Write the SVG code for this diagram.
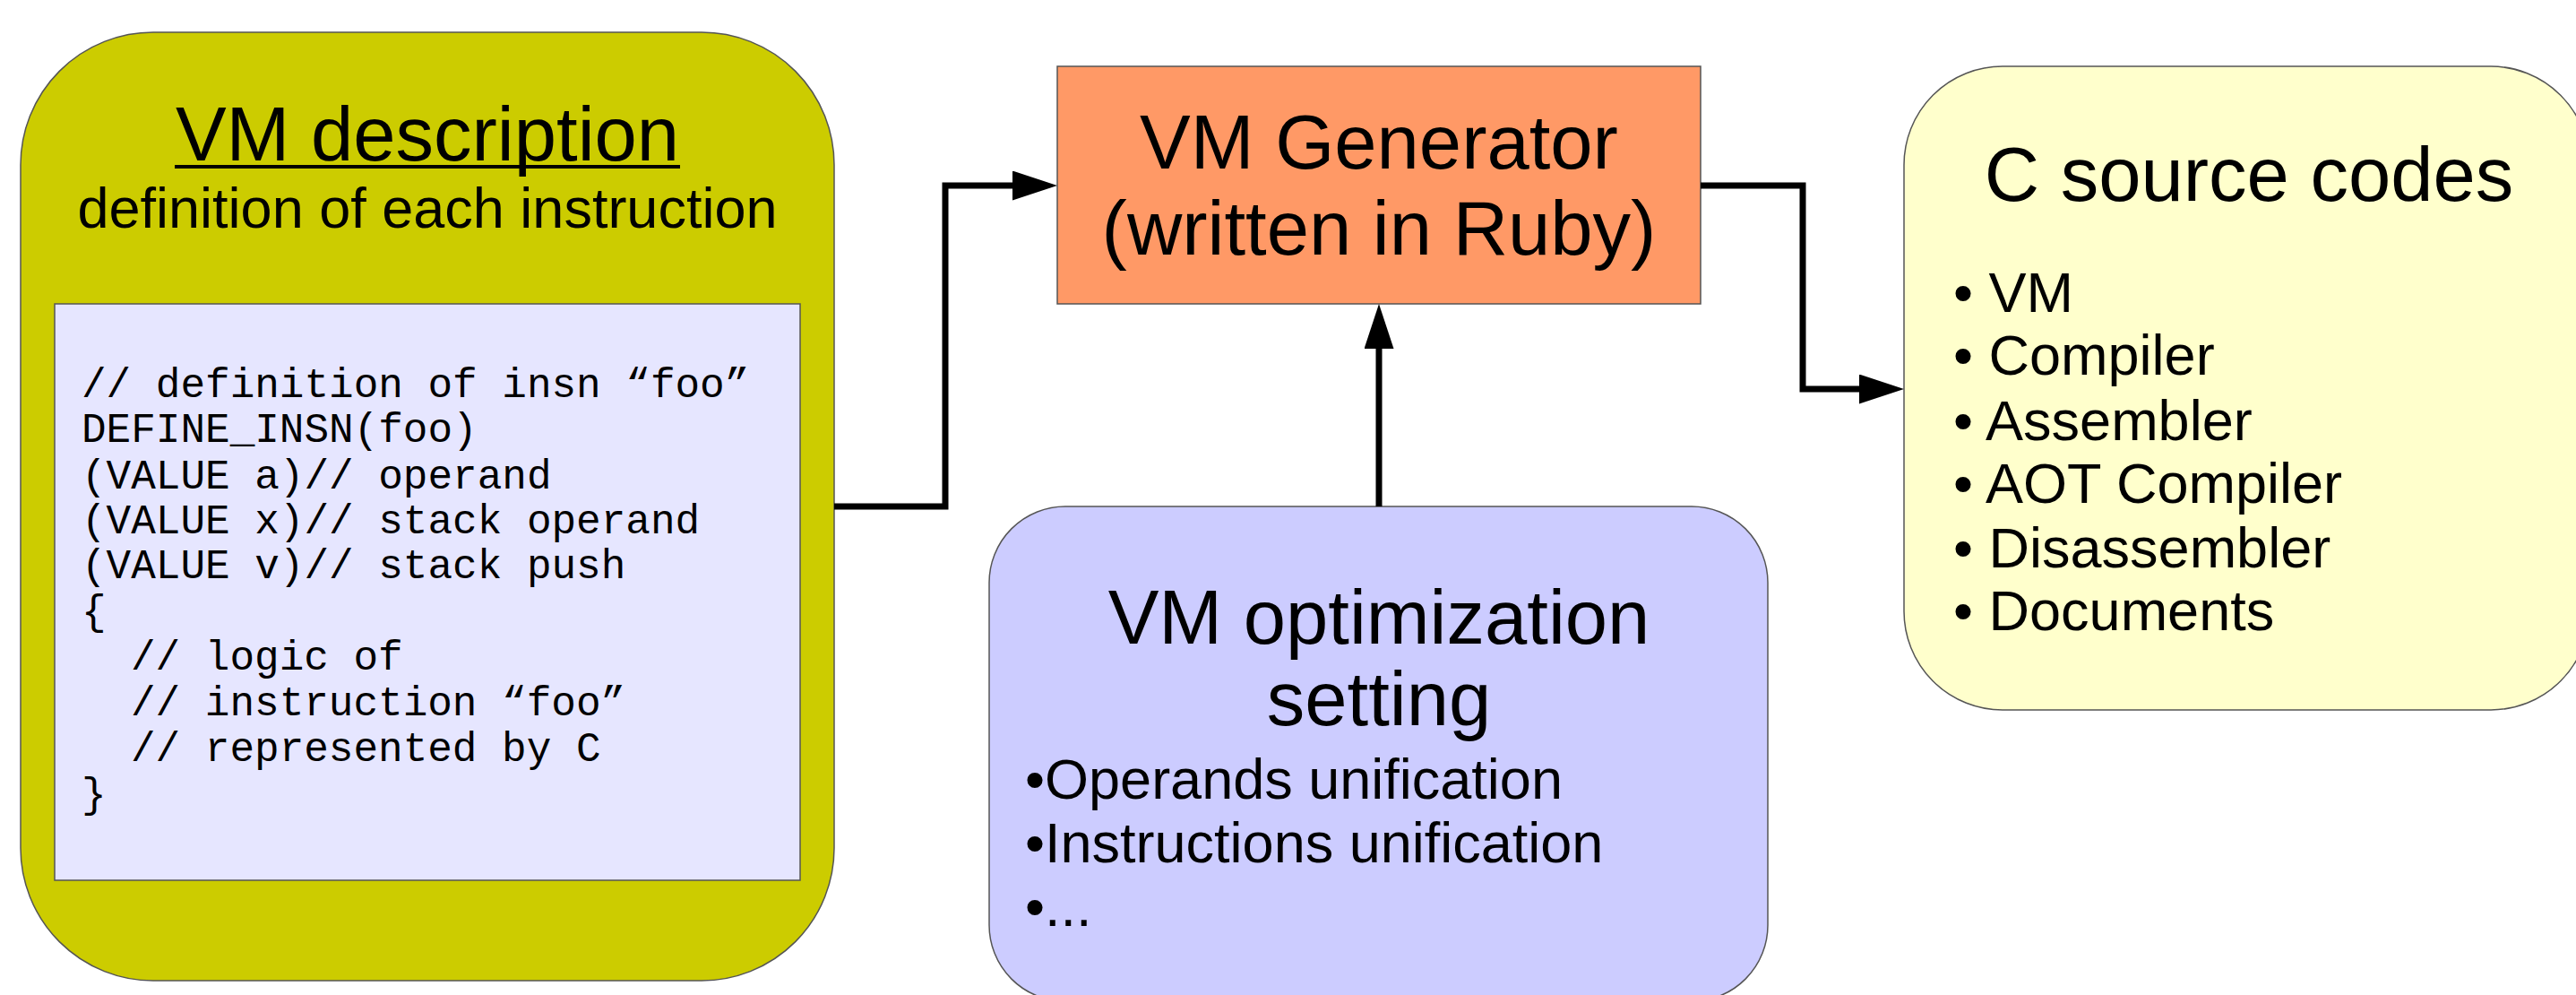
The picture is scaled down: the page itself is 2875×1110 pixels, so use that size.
<svg xmlns="http://www.w3.org/2000/svg" width="2875" height="1110" viewBox="0 0 2875 1110">
<defs>
<style>
.box{stroke:#555;stroke-width:1.5}
.t{font-family:"Liberation Sans",Arial,sans-serif;fill:#000}
.big{font-size:85px}
.mid{font-size:63px}
.code{font-family:"Liberation Mono","Courier New",monospace;font-size:46px;fill:#000}
.conn{fill:none;stroke:#000;stroke-width:7;stroke-linejoin:miter}
</style>
<marker id="arr" markerUnits="userSpaceOnUse" markerWidth="50" markerHeight="33" viewBox="0 0 50 33" refX="0" refY="16.5" orient="auto">
<path d="M0,0 L50,16.5 L0,33 z" fill="#000"/>
</marker>
</defs>
<rect width="2875" height="1110" fill="#fff"/>
<g id="vm-description">
<rect class="box" x="23" y="36" width="908" height="1058" rx="148" ry="148" fill="#cccc00"/>
<text class="t big" x="477" y="179" text-anchor="middle">VM description</text>
<rect x="195" y="184" width="564" height="4" fill="#000"/>
<text class="t mid" x="477" y="254" text-anchor="middle">definition of each instruction</text>
<rect class="box" x="61" y="339" width="832" height="643" fill="#e6e6ff"/>
<text class="code" x="91" y="443">// definition of insn “foo”</text>
<text class="code" x="91" y="493">DEFINE_INSN(foo)</text>
<text class="code" x="91" y="545">(VALUE a)// operand</text>
<text class="code" x="91" y="595">(VALUE x)// stack operand</text>
<text class="code" x="91" y="645">(VALUE v)// stack push</text>
<text class="code" x="91" y="696">{</text>
<text class="code" x="146" y="747">// logic of</text>
<text class="code" x="146" y="798">// instruction “foo”</text>
<text class="code" x="146" y="849">// represented by C</text>
<text class="code" x="91" y="900">}</text>
</g>
<g id="vm-generator">
<rect class="box" x="1180" y="74" width="718" height="265" fill="#ff9966"/>
<text class="t big" x="1539" y="188" text-anchor="middle">VM Generator</text>
<text class="t big" x="1539" y="284" text-anchor="middle">(written in Ruby)</text>
</g>
<g id="vm-optimization">
<rect class="box" x="1104" y="565" width="869" height="552" rx="85" ry="85" fill="#ccccff"/>
<text class="t big" x="1539" y="718" text-anchor="middle">VM optimization</text>
<text class="t big" x="1539" y="809" text-anchor="middle">setting</text>
<text class="t mid" x="1144" y="891">•Operands unification</text>
<text class="t mid" x="1144" y="962">•Instructions unification</text>
<text class="t mid" x="1144" y="1033">•...</text>
</g>
<g id="c-source">
<rect class="box" x="2125" y="74" width="765" height="718" rx="110" ry="110" fill="#ffffcc"/>
<text class="t big" x="2510" y="224" text-anchor="middle">C source codes</text>
<text class="t mid" x="2180" y="348">• VM</text>
<text class="t mid" x="2180" y="418">• Compiler</text>
<text class="t mid" x="2180" y="491">• Assembler</text>
<text class="t mid" x="2180" y="561">• AOT Compiler</text>
<text class="t mid" x="2180" y="633">• Disassembler</text>
<text class="t mid" x="2180" y="703">• Documents</text>
</g>
<g id="connectors">
<path class="conn" d="M931,565 H1055 V207 H1130" marker-end="url(#arr)"/>
<path class="conn" d="M1539,565 V389" marker-end="url(#arr)"/>
<path class="conn" d="M1898,207 H2012 V434 H2075" marker-end="url(#arr)"/>
</g>
</svg>
